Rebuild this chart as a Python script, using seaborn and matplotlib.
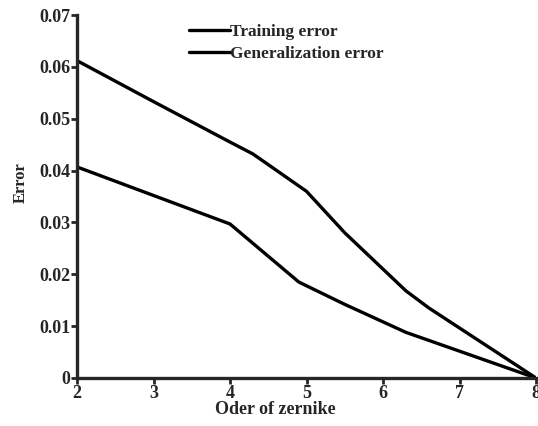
import matplotlib
matplotlib.use("Agg")
import matplotlib.pyplot as plt
import seaborn as sns
import pandas as pd

train_x = [2, 3, 4, 4.9, 5.5, 6.3, 8]
train_y = [0.0407, 0.0352, 0.0297, 0.0185, 0.0142, 0.0088, 0.0]
gen_x = [2, 3, 4, 4.3, 5, 5.5, 6.3, 6.6, 8]
gen_y = [0.0612, 0.0533, 0.0455, 0.0432, 0.0360, 0.0280, 0.0168, 0.0135, 0.0]
xticks = [2, 3, 4, 5, 6, 7, 8]
yticks = [0, 0.01, 0.02, 0.03, 0.04, 0.05, 0.06, 0.07]
ytick_labels = ["0", "0.01", "0.02", "0.03", "0.04", "0.05", "0.06", "0.07"]

df = pd.concat([
    pd.DataFrame({"order": train_x, "error": train_y, "series": "Training error"}),
    pd.DataFrame({"order": gen_x, "error": gen_y, "series": "Generalization error"}),
])

sns.set_style("ticks")
plt.rcParams['font.family'] = ['Liberation Serif', 'DejaVu Serif']
plt.rcParams['font.weight'] = 'bold'

fig = plt.figure(figsize=(5.38, 4.26), dpi=100)
W, H = 538, 426
ax = fig.add_axes([77 / W, 1 - 378 / H, (536 - 77) / W, (378 - 15) / H])

sns.lineplot(data=df, x="order", y="error", hue="series",
             palette={"Training error": "black", "Generalization error": "black"},
             linewidth=2.4, ax=ax, sort=False, estimator=None)

ax.set_xlim(2, 8)
ax.set_ylim(0, 0.07)
ax.set_xticks(xticks)
ax.set_xticklabels([str(t) for t in xticks])
ax.set_yticks(yticks)
ax.set_yticklabels(ytick_labels)
for lbl in ax.get_xticklabels() + ax.get_yticklabels():
    lbl.set_fontweight('bold')
    lbl.set_fontsize(13)
ax.tick_params(width=2, length=4, direction='out', pad=1)
for s in ["top", "right"]:
    ax.spines[s].set_visible(False)
for s in ["left", "bottom"]:
    ax.spines[s].set_linewidth(2.4)

ax.set_xlabel("Oder of zernike", fontsize=13, fontweight='bold')
ax.xaxis.set_label_coords((275 - 77) / 459, -(410 - 378) / 363)
ax.xaxis.label.set_va('center')
ax.set_ylabel("Error", fontsize=12, fontweight='bold')
ax.yaxis.set_label_coords((21 - 77) / 459, (378 - 183) / 363)
ax.yaxis.label.set_va('center')

leg = ax.legend(loc='upper left', bbox_to_anchor=(180 / W, 1 - 15 / H),
                bbox_transform=fig.transFigure, frameon=False, borderpad=0,
                handlelength=2.4, handletextpad=0.0, labelspacing=0.35,
                prop={'weight': 'bold', 'size': 12.5, 'family': 'Liberation Serif'})
for l in leg.get_lines():
    l.set_linewidth(2.4)

fig.savefig("out.png", dpi=100)
